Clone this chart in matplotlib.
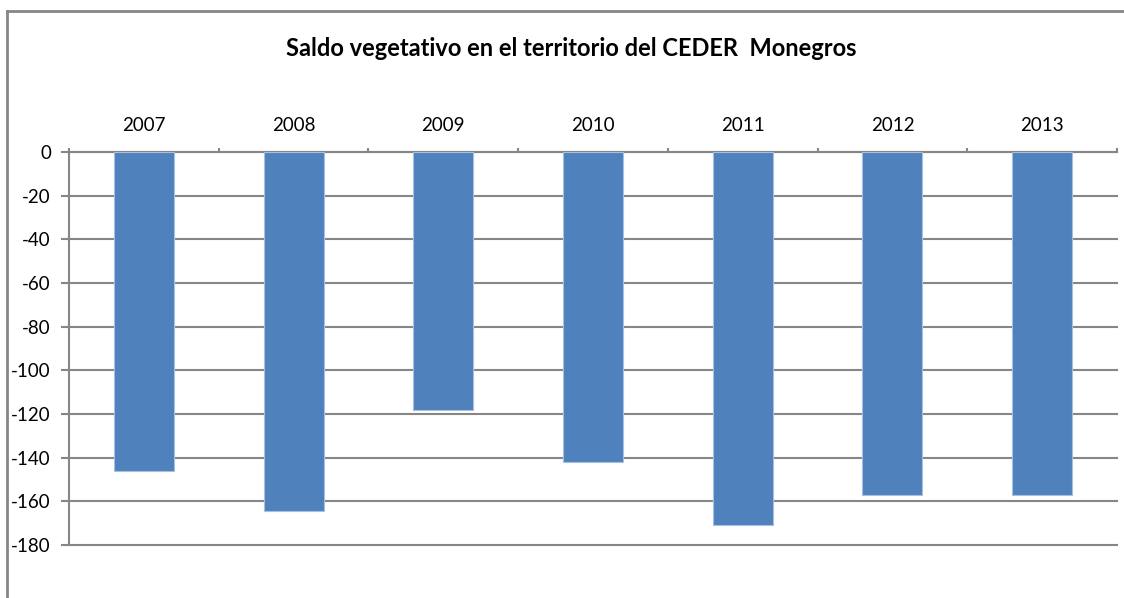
import matplotlib
matplotlib.use('Agg')
import matplotlib.pyplot as plt
from matplotlib.lines import Line2D

years = ['2007', '2008', '2009', '2010', '2011', '2012', '2013']
saldo = [-146, -164.5, -118, -142, -171, -157, -157]
y_ticks = [0, -20, -40, -60, -80, -100, -120, -140, -160, -180]

W, H = 1124, 598
plt.rcParams['font.family'] = ['Lato', 'DejaVu Sans']
grey = '#868686'

fig = plt.figure(figsize=(W / 100, H / 100), dpi=100)
ax = fig.add_axes([69 / W, 1 - 545 / H, (1117 - 69) / W, (545 - 152) / H])

x = list(range(len(years)))
ax.bar(x, saldo, width=0.4, color='#4F81BD', edgecolor='#A7C0E0', linewidth=0.8, zorder=3)

ax.set_xlim(-0.5, len(years) - 0.5)
ax.set_ylim(-180, 0)

# category axis sits on the zero line, at the top
ax.xaxis.tick_top()
ax.set_xticks(x)
ax.set_xticklabels(years, fontsize=13.5)
ax.tick_params(axis='x', which='major', length=0, pad=13)
ax.set_xticks([i - 0.5 for i in range(len(years) + 1)], minor=True)
ax.tick_params(axis='x', which='minor', length=3, width=1.5, color=grey, direction='out')

ax.set_yticks(y_ticks)
ax.set_yticklabels([str(v) for v in y_ticks], fontsize=13.5)
ax.tick_params(axis='y', length=6, width=1.5, color=grey, pad=7)
ax.yaxis.grid(True, color=grey, linewidth=1.5, zorder=0)
for gl in ax.get_ygridlines():
    gl.set_clip_on(False)

for s in ['right', 'bottom']:
    ax.spines[s].set_visible(False)
for s in ['top', 'left']:
    ax.spines[s].set_color(grey)
    ax.spines[s].set_linewidth(1.5)

fig.text(571 / W, 1 - 49 / H, 'Saldo vegetativo en el territorio del CEDER  Monegros',
         ha='center', va='center', fontsize=17, fontweight='bold')

# outer chart frame (cropped at right and bottom)
fig.add_artist(Line2D([7 / W, 7 / W], [0, 1 - 11 / H], color=grey, linewidth=2))
fig.add_artist(Line2D([7 / W, 1], [1 - 11 / H, 1 - 11 / H], color=grey, linewidth=2))

fig.savefig('out.png', dpi=100)
